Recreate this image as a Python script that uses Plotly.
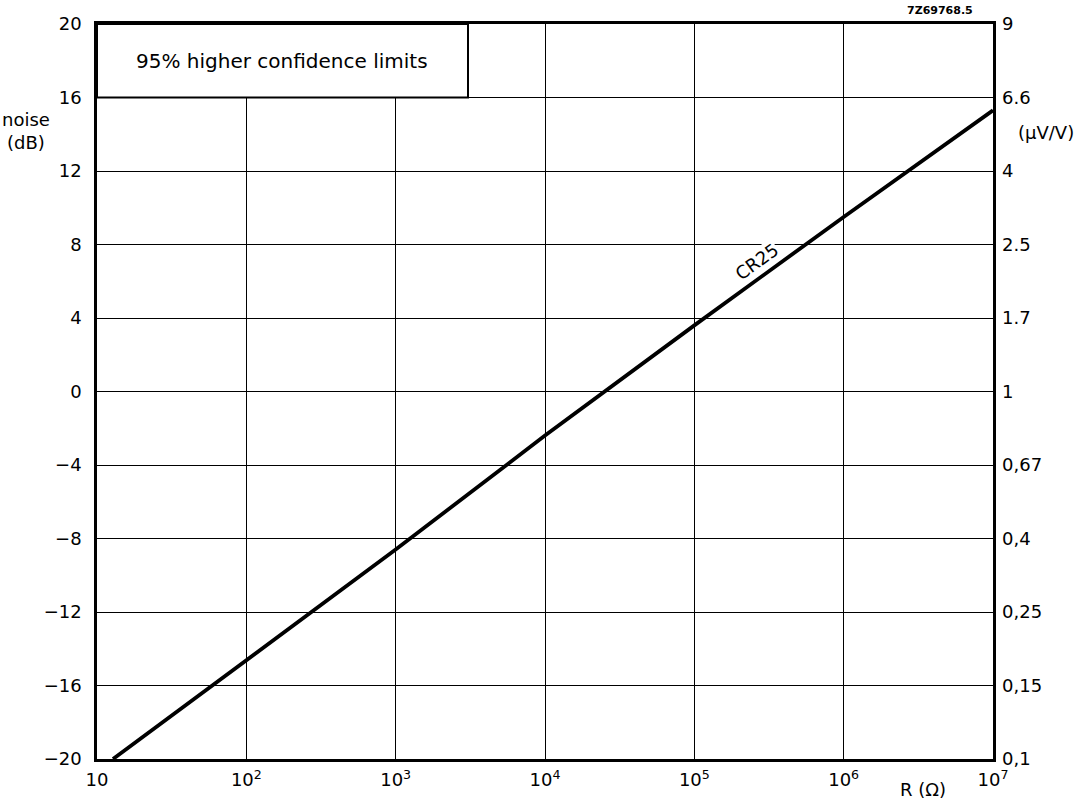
import plotly.graph_objects as go

# Data
R_ohm = [12.8, 100, 1e3, 1e4, 1e5, 1e6, 1e7]
noise_db = [-20, -14.6, -8.6, -2.4, 3.6, 9.5, 15.3]

x_tickvals = [10, 1e2, 1e3, 1e4, 1e5, 1e6, 1e7]
x_ticktext = ["10", "10<sup>2</sup>", "10<sup>3</sup>", "10<sup>4</sup>",
              "10<sup>5</sup>", "10<sup>6</sup>", "10<sup>7</sup>"]
y_tickvals = [-20, -16, -12, -8, -4, 0, 4, 8, 12, 16, 20]
y_ticktext = ["\u221220", "\u221216", "\u221212", "\u22128", "\u22124", "0", "4", "8", "12", "16", "20"]
y2_ticktext = ["0,1", "0,15", "0,25", "0,4", "0,67", "1", "1.7", "2.5", "4", "6.6", "9"]

FONT = "DejaVu Sans"
FS = 18
L, R, T, B = 97, 993, 24, 759
W, H = R - L, B - T


def px(x):
    return (x - L) / W


def py(y):
    return (B - y) / H


fig = go.Figure()
fig.add_trace(go.Scatter(x=R_ohm, y=noise_db, mode="lines",
                         line=dict(color="black", width=3.8), showlegend=False,
                         hoverinfo="skip"))
fig.add_trace(go.Scatter(x=[10, 1e7], y=[-20, 20], yaxis="y2", mode="markers",
                         marker=dict(opacity=0), showlegend=False, hoverinfo="skip"))

fig.update_layout(
    width=1080, height=801,
    margin=dict(l=L, r=1080 - R, t=T, b=801 - B),
    paper_bgcolor="white", plot_bgcolor="white",
    font=dict(family=FONT, size=FS, color="black"),
    xaxis=dict(type="log", range=[1, 7], tickvals=x_tickvals, ticktext=x_ticktext,
               showgrid=True, gridcolor="black", gridwidth=1,
               showline=True, linecolor="black", linewidth=2.5, mirror=True,
               ticks="", ticklabelstandoff=3, zeroline=False),
    yaxis=dict(range=[-20, 20], tickvals=y_tickvals, ticktext=y_ticktext,
               showgrid=True, gridcolor="black", gridwidth=1,
               showline=True, linecolor="black", linewidth=2.5, mirror=True,
               ticks="", ticklabelstandoff=9, zeroline=False),
    yaxis2=dict(range=[-20, 20], tickvals=y_tickvals, ticktext=y2_ticktext,
                overlaying="y", side="right", showgrid=False, zeroline=False,
                ticks="", ticklabelstandoff=8, showline=False),
)

# Legend-like box
fig.add_shape(type="rect", xref="paper", yref="y", x0=0, x1=px(468),
              y0=16, y1=20, fillcolor="white", line=dict(color="black", width=2),
              layer="above")
fig.add_annotation(xref="paper", yref="y", x=px(282), y=18, xanchor="center",
                   text="95% higher confidence limits", showarrow=False,
                   font=dict(size=20))
fig.add_annotation(x=5.42, y=7.05, text="CR25", showarrow=False, textangle=-36,
                   xanchor="center", yanchor="middle",
                   bgcolor="white", font=dict(size=FS), borderpad=0)
fig.add_annotation(xref="paper", yref="paper", x=px(26), y=py(131),
                   xanchor="center", yanchor="middle",
                   text="noise<br>(dB)", showarrow=False, font=dict(size=FS),
                   align="center")
fig.add_annotation(xref="paper", yref="paper", x=px(1046), y=py(133),
                   xanchor="center", yanchor="middle",
                   text="(\u03bcV/V)", showarrow=False, font=dict(size=FS))
fig.add_annotation(xref="paper", yref="paper", x=px(923), y=py(790),
                   xanchor="center", yanchor="middle", text="R (\u03a9)",
                   showarrow=False, font=dict(size=FS))
fig.add_annotation(xref="paper", yref="paper", x=px(940), y=py(11),
                   xanchor="center", yanchor="middle", text="<b>7Z69768.5</b>",
                   showarrow=False, font=dict(size=11))

fig.write_html("out.html")
